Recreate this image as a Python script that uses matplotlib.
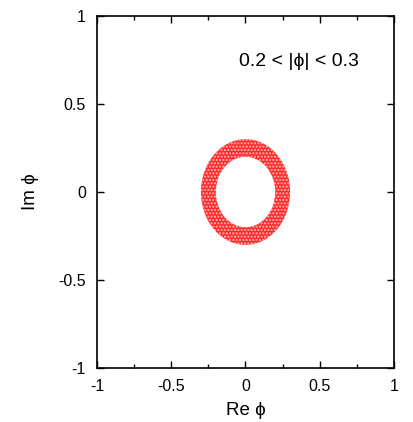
import matplotlib
matplotlib.use('Agg')
import matplotlib.pyplot as plt
from matplotlib.patches import Annulus
from matplotlib.ticker import MultipleLocator

plt.rcParams['font.family'] = ['Liberation Sans', 'DejaVu Sans']

# annulus bounds for |phi|
r_inner = 0.2
r_outer = 0.3
center = (0.0, 0.0)

xlim = (-1, 1)
ylim = (-1, 1)
major_ticks = [-1, -0.5, 0, 0.5, 1]
tick_labels = ['-1', '-0.5', '0', '0.5', '1']
label_text = '0.2 < |\u03d5| < 0.3'

fig = plt.figure(figsize=(4.14, 4.22), dpi=100)
ax = fig.add_axes([97 / 414, 54 / 422, 297 / 414, 352 / 422])

# red ring, speckled with lighter dots
ring = Annulus(center, r_outer, r_outer - r_inner, facecolor='#ff2a2a',
               edgecolor='none', linewidth=0)
ax.add_patch(ring)
speck = Annulus(center, r_outer, r_outer - r_inner, facecolor='none',
                edgecolor='#ffc0c0', linewidth=0, hatch='.....')
ax.add_patch(speck)

ax.set_xlim(*xlim)
ax.set_ylim(*ylim)
ax.set_xticks(major_ticks)
ax.set_xticklabels(tick_labels)
ax.set_yticks(major_ticks)
ax.set_yticklabels(tick_labels)
ax.xaxis.set_minor_locator(MultipleLocator(0.25))

ax.tick_params(which='major', direction='in', length=5, width=1,
               top=True, right=True, labelsize=11.5, pad=8)
ax.tick_params(axis='x', which='minor', direction='in', length=3, width=1,
               top=True, bottom=True)
for s in ax.spines.values():
    s.set_linewidth(1.2)

ax.set_xlabel('Re \u03d5', fontsize=13.5, labelpad=6)
ax.set_ylabel('Im \u03d5', fontsize=13.5, labelpad=14)

ax.text(0.68, 0.87, label_text, transform=ax.transAxes, fontsize=14,
        ha='center', va='center')

fig.savefig('out.png', dpi=100)
